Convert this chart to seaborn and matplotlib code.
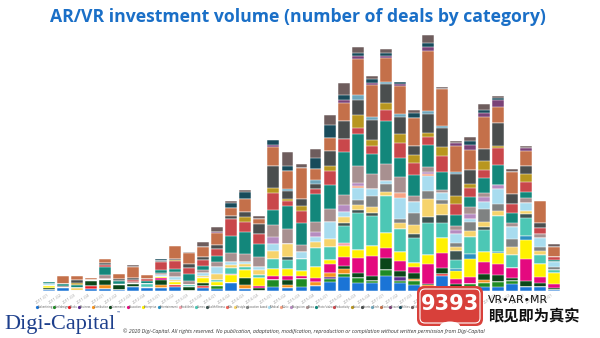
import matplotlib
matplotlib.use("Agg")
import numpy as np
import pandas as pd
import seaborn as sns
import matplotlib.pyplot as plt
from matplotlib.lines import Line2D
from matplotlib.patches import FancyBboxPatch, Ellipse

# ---------------- data ----------------
quarters = ["2011-Q1", "2011-Q2", "2011-Q3", "2011-Q4", "2012-Q1", "2012-Q2", "2012-Q3", "2012-Q4",
            "2013-Q1", "2013-Q2", "2013-Q3", "2013-Q4", "2014-Q1", "2014-Q2", "2014-Q3", "2014-Q4",
            "2015-Q1", "2015-Q2", "2015-Q3", "2015-Q4", "2016-Q1", "2016-Q2", "2016-Q3", "2016-Q4",
            "2017-Q1", "2017-Q2", "2017-Q3", "2017-Q4", "2018-Q1", "2018-Q2", "2018-Q3", "2018-Q4",
            "2019-Q1", "2019-Q2", "2019-Q3", "2019-Q4", "2020-Q1"]

categories = ["Advertising", "Art/design", "Books", "Business", "Distribution", "eCommerce",
              "Education", "Enterprise", "Entertainment", "Food/drink", "Games", "Health/fitness",
              "Kids", "Lifestyle", "Location based", "Medical", "Music", "Navigation", "News",
              "Photo/video", "Productivity", "Social", "Sports", "Tech", "Tools", "Travel",
              "Utilities", "Video"]

colors = ["#1a74d6", "#1f8b24", "#e81c24", "#5b2c8f", "#f7931e", "#0b4619",
          "#e4097f", "#fff100", "#2b90c0", "#f5a3ad", "#4cc7b5", "#3e5451",
          "#f0655a", "#f6d36b", "#7f8282", "#a8dcef", "#f7a384", "#b68bc0", "#a89090",
          "#13877b", "#c9474b", "#b8961f", "#4a4e4e", "#6fa6bb", "#c4704a", "#7b4277",
          "#184b5b", "#6e5d5d"]

advertising = [1,3,0,2,2, 1,4,3,3,4, 0,3,2,8,2, 0,4,3,4,5, 9,14,8,8,15, 8,6,4,15,4, 4,4,4,7,4, 4,1]
art_design = [0,0,0,0,0, 0,0,0,0,0, 0,0,3,0,0, 0,7,0,8,0, 3,3,5,2,6, 2,4,0,0,0, 3,4,5,3,0, 0,0]
books = [0,0,0,3,0, 0,0,0,0,2, 0,2,0,0,0, 0,0,0,0,0, 0,0,0,0,0, 0,0,0,2,0, 0,0,0,0,0, 0,0]
business = [0,0,0,0,0, 0,0,0,0,0, 0,0,0,0,0, 0,0,0,0,0, 2,0,0,0,0, 4,0,0,0,0, 0,0,0,0,0, 0,0]
distribution = [0,0,0,0,4, 0,0,0,3,0, 0,0,0,0,4, 0,0,3,0,4, 4,5,0,0,0, 0,2,2,0,0, 0,3,0,0,0, 0,0]
ecommerce = [2,0,0,5,5, 5,3,0,5,0, 4,3,0,0,7, 3,0,5,0,0, 0,3,5,5,12, 6,6,1,6,3, 0,6,7,3,6, 4,2]
education = [0,0,0,0,0, 0,0,0,2,0, 0,0,0,0,0, 2,4,4,3,4, 9,9,15,20,10, 10,6,20,15,5, 7,12,11,10,22, 6,4]
enterprise = [2,0,0,0,0, 0,0,0,1,3, 0,5,4,8,8, 8,7,7,5,11, 4,11,8,10,15, 9,4,9,15,8, 18,10,11,0,19, 13,11]
entertainment = [0,0,0,0,0, 0,0,0,0,0, 0,0,0,0,0, 0,0,0,0,0, 0,0,0,0,0, 0,0,0,0,2, 5,0,1,0,4, 0,0]
food_drink = [0,0,0,0,0, 0,0,1,0,0, 0,0,0,1,0, 0,0,0,0,0, 0,3,0,0,0, 0,0,0,0,0, 0,0,0,0,0, 0,0]
games = [0,0,0,0,0, 0,0,3,0,0, 2,0,2,6,3, 3,10,9,12,19, 13,17,37,30,37, 23,25,32,15,9, 17,22,36,13,18, 9,3]
health_fitness = [0,0,0,0,0, 0,0,0,0,0, 0,0,0,0,0, 0,0,3,0,0, 0,3,3,3,0, 0,4,6,8,9, 0,3,0,0,4, 0,0]
kids = [0,0,0,0,0, 0,0,0,0,0, 0,0,0,0,0, 0,0,0,0,0, 0,0,0,0,0, 0,0,0,0,0, 0,0,0,0,0, 0,0]
lifestyle = [0,0,3,0,0, 0,0,0,0,2, 0,2,6,3,3, 5,8,13,0,6, 8,6,5,6,4, 6,9,18,11,4, 6,5,5,8,3, 4,0]
location_based = [0,0,0,0,0, 0,0,0,0,0, 0,0,0,0,0, 0,0,0,0,0, 0,0,5,11,8, 4,12,8,4,4, 9,13,7,8,0, 4,3]
medical = [2,0,0,0,1, 0,0,0,2,3, 0,3,7,3,2, 3,7,0,7,5, 17,5,12,7,3, 21,11,15,7,9, 3,7,15,12,8, 9,5]
music = [0,0,0,0,0, 0,0,0,0,0, 0,0,0,0,0, 0,0,0,0,0, 0,0,2,0,0, 5,0,2,0,0, 0,0,0,0,0, 0,0]
navigation = [0,0,0,0,0, 0,0,0,0,0, 0,0,0,0,0, 0,7,0,0,5, 0,7,3,0,0, 0,0,2,0,4, 5,5,4,0,0, 0,0]
news = [0,2,0,0,4, 1,2,0,2,5, 4,3,5,9,8, 10,12,15,7,10, 13,10,17,15,17, 16,6,5,3,4, 7,4,0,4,5, 4,0]
photo_video = [2,2,3,1,8, 3,0,3,3,3, 7,4,6,17,22, 13,15,23,22,28, 24,43,32,20,43, 19,21,22,18,11, 10,15,20,10,6, 0,2]
productivity = [0,0,0,0,2, 0,2,2,8,8, 6,6,7,17,10, 10,17,5,12,5, 14,13,6,8,11, 15,12,8,16,11, 9,8,17,9,10, 6,3]
social = [0,0,2,0,0, 0,0,0,0,1, 0,0,0,0,5, 0,5,2,5,0, 5,0,13,6,7, 9,8,4,9,8, 4,9,2,0,8, 0,0]
sports = [0,0,3,0,2, 2,2,0,1,1, 4,3,4,3,5, 10,22,8,7,5, 15,18,15,20,19, 17,9,19,19,22, 14,12,23,10,8, 5,0]
tech = [0,0,0,0,0, 0,0,0,0,0, 0,0,0,0,0, 0,0,2,0,4, 0,0,5,3,2, 3,0,3,2,2, 0,0,0,0,0, 0,0]
tools = [0,8,4,2,4, 5,11,4,0,13, 11,10,12,8,13, 5,19,18,31,11, 13,18,36,32,24, 28,28,60,37,26, 20,32,16,22,15, 22,10]
travel = [0,0,0,0,0, 0,0,0,0,0, 0,0,1,0,0, 0,2,0,0,0, 0,3,3,2,2, 2,0,4,0,3, 5,4,7,0,3, 0,0]
utilities = [0,0,0,0,0, 0,0,0,2,0, 0,0,0,5,7, 0,5,5,0,11, 13,5,3,4,3, 2,5,4,0,0, 4,3,2,0,0, 0,0]
video = [0,0,0,0,0, 0,2,0,0,0, 1,5,5,2,2, 3,0,14,4,9, 10,12,6,3,4, 0,3,8,2,2, 4,6,2,3,2, 0,3]

series = [advertising, art_design, books, business, distribution, ecommerce, education, enterprise,
          entertainment, food_drink, games, health_fitness, kids, lifestyle, location_based, medical,
          music, navigation, news, photo_video, productivity, social, sports, tech, tools, travel,
          utilities, video]

# ---------------- figure ----------------
sns.set_theme(style="white")
plt.rcParams['font.family'] = ['Open Sans', 'DejaVu Sans']

fig = plt.figure(figsize=(6.0, 3.38), dpi=100)
ax = fig.add_axes([0.07, 0.139, 0.865, 0.799])

wide = pd.DataFrame({c: v for c, v in zip(categories, series)}, index=quarters)
cum = wide.cumsum(axis=1)

for cat, col in reversed(list(zip(categories, colors))):
    sns.barplot(x=quarters, y=cum[cat].values, color=col, saturation=1, width=0.85,
                edgecolor="white", linewidth=0.35, ax=ax)

ax.set_ylim(0, 270)
ax.set_xlim(-0.5, len(quarters) - 0.5)
ax.set_yticks([])
ax.set_ylabel("")
ax.set_xlabel("")
for s in ax.spines.values():
    s.set_visible(False)
ax.set_xticks(range(len(quarters)))
ax.set_xticklabels(quarters, rotation=35, ha="right", fontsize=2.8, color="#9a9a9a")
ax.tick_params(axis="x", length=0, pad=1)

fig.text(0.497, 0.95, "AR/VR investment volume (number of deals by category)",
         ha="center", va="center", fontsize=12.7, fontweight="bold", color="#1a6fc7")

handles = [Line2D([], [], marker="o", linestyle="", markersize=1.3, color=c) for c in colors]
fig.legend(handles, categories, loc="center left", bbox_to_anchor=(0.058, 0.092),
           ncol=len(categories), fontsize=1.95, frameon=False, handletextpad=0.05,
           columnspacing=0.2, borderpad=0, handlelength=0.6, labelcolor="#555555")

# overlay in pixel coordinates for logo, footer and watermark
ov = fig.add_axes([0, 0, 1, 1], zorder=10)
ov.set_xlim(0, 600)
ov.set_ylim(338, 0)
ov.axis("off")
ov.patch.set_alpha(0)

ov.text(4, 324, "Digi-Capital", fontsize=16, family=["Liberation Serif", "DejaVu Serif"],
        color="#1d3f8c", ha="left", va="center")
ov.text(117, 313, "™", fontsize=3, color="#1d3f8c", ha="left", va="center")
ov.text(123, 331, "© 2020 Digi-Capital. All rights reserved. No publication, adaptation, modification, "
        "reproduction or compilation without written permission from Digi-Capital",
        fontsize=3.75, style="italic", color="#333333", ha="left", va="center")

ov.add_patch(FancyBboxPatch((417, 286), 66, 40, boxstyle="round,pad=0,rounding_size=7",
                            fc="#d8403a", ec="none"))
ov.add_patch(FancyBboxPatch((420, 289), 60, 34, boxstyle="round,pad=0,rounding_size=5",
                            fc="none", ec="white", lw=0.8))
ov.add_patch(Ellipse((450, 326), 20, 9, fc="white", ec="none"))
ov.text(450, 304, "9393", fontsize=15, fontweight="bold", family=["DejaVu Sans"],
        color="white", ha="center", va="center")
ov.text(488, 300, "VR•AR•MR", fontsize=7.8, color="#111111", ha="left", va="center",
        family=["DejaVu Sans"])
ov.text(488, 316, "眼见即为真实", fontsize=11, fontweight="bold", color="#111111",
        ha="left", va="center", family=["Noto Sans CJK SC", "DejaVu Sans"])

fig.savefig("out.png", dpi=100)
